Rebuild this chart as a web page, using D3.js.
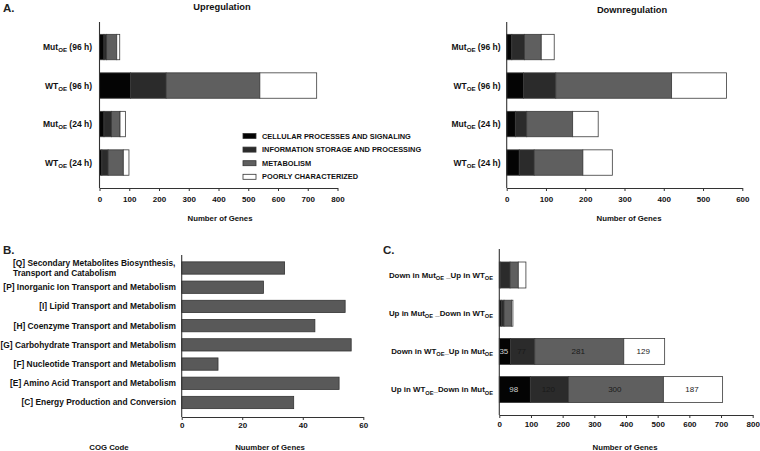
<!DOCTYPE html>
<html>
<head>
<meta charset="utf-8">
<script src="https://cdn.jsdelivr.net/npm/d3@7/dist/d3.min.js"></script>
<style>
  html, body { margin: 0; padding: 0; background: #fff; }
  svg { display: block; font-family: "Liberation Sans", Arial, sans-serif; }
</style>
</head>
<body>
<svg id="chart" width="760" height="451"></svg>
<script>
// ---------- DATA ----------
const cogClasses = ["CELLULAR PROCESSES AND SIGNALING", "INFORMATION STORAGE AND PROCESSING", "METABOLISM", "POORLY CHARACTERIZED"];
const sampleRows = [["Mut", " (96 h)"], ["WT", " (96 h)"], ["Mut", " (24 h)"], ["WT", " (24 h)"]];
const upCellular = [15, 104, 15, 8];
const upInformation = [9, 120, 25, 21];
const upMetabolism = [34, 315, 29, 51];
const upPoorly = [10, 191, 18, 19];
const downCellular = [13, 43, 22, 32];
const downInformation = [32, 82, 29, 38];
const downMetabolism = [43, 295, 117, 124];
const downPoorly = [33, 140, 65, 75];
const upTicks = [0, 100, 200, 300, 400, 500, 600, 700, 800];
const downTicks = [0, 100, 200, 300, 400, 500, 600];

const metabCategories = [
  "[Q] Secondary Metabolites Biosynthesis,|Transport and Catabolism",
  "[P] Inorganic Ion Transport and Metabolism",
  "[I] Lipid Transport and Metabolism",
  "[H] Coenzyme Transport and Metabolism",
  "[G] Carbohydrate Transport and Metabolism",
  "[F] Nucleotide Transport and Metabolism",
  "[E] Amino Acid Transport and Metabolism",
  "[C] Energy Production and Conversion"
];
const metabGenes = [34, 27, 54, 44, 56, 12, 52, 37];
const metabTicks = [0, 20, 40, 60];

// comparison rows: each label as [text, sub, text, sub]
const compareRows = [
  ["Down in Mut", "OE", " _Up in WT", "OE"],
  ["Up in Mut", "OE", " _Down in WT", "OE"],
  ["Down in WT", "OE", "_Up in Mut", "OE"],
  ["Up in WT", "OE", "_Down in Mut", "OE"]
];
const cmpCellular = [3, 6, 35, 98];
const cmpInformation = [31, 9, 77, 120];
const cmpMetabolism = [26, 24, 281, 300];
const cmpPoorly = [24, 4, 129, 187];
const cmpLabeled = [false, false, true, true];
const cmpTicks = [0, 100, 200, 300, 400, 500, 600, 700, 800];

// ---------- STYLE ----------
const segColors = ["#040404", "#2b2b2b", "#5f5f5f", "#ffffff"];
const axisColor = "#333";
const svg = d3.select("#chart");

function addSubLabel(sel, parts, fs) {
  parts.forEach((p, i) => {
    const t = sel.append("tspan").text(p);
    if (i % 2 === 1) {
      t.attr("font-size", fs * 0.72).attr("dy", fs * 0.28);
    } else if (i > 0) {
      t.attr("dy", -fs * 0.28);
    }
  });
}

function styleAxis(g, fs) {
  g.select(".domain").attr("stroke", axisColor).attr("stroke-width", 1.1);
  g.selectAll(".tick line").attr("stroke", axisColor).attr("stroke-width", 1);
  g.selectAll(".tick text").attr("fill", "#111").attr("font-size", fs).attr("font-weight", "bold").attr("font-family", "Liberation Sans, Arial, sans-serif");
}

function stackedPanel(opt) {
  const x = d3.scaleLinear().domain(opt.domain).range(opt.xr);
  const y = d3.scaleBand().domain(d3.range(opt.rows.length)).range(opt.yr).paddingInner(opt.pad).paddingOuter(opt.pad / 2);
  const series = opt.series;
  const rowsData = opt.rows.map((r, i) => {
    let acc = 0;
    return series.map((s, k) => { const v = s[i]; const seg = {row: i, k, x0: acc, x1: acc + v, v}; acc += v; return seg; });
  });
  const g = svg.append("g");
  rowsData.forEach((segs, i) => {
    g.selectAll(null).data(segs).enter().append("rect")
      .attr("x", d => x(d.x0))
      .attr("y", y(i))
      .attr("width", d => Math.max(0, x(d.x1) - x(d.x0)))
      .attr("height", y.bandwidth())
      .attr("fill", d => segColors[d.k])
      .attr("stroke", "#3a3a3a")
      .attr("stroke-width", 0.8);
    if (opt.labeled && opt.labeled[i]) {
      g.selectAll(null).data(segs).enter().append("text")
        .attr("x", d => (x(d.x0) + x(d.x1)) / 2 - 1)
        .attr("y", y(i) + y.bandwidth() / 2)
        .attr("dy", "0.35em")
        .attr("text-anchor", "middle")
        .attr("font-size", 8)
        .attr("fill", d => d.k === 0 ? "#d0d0d0" : "#1a1a1a")
        .text(d => d.v);
    }
  });
  // row labels
  opt.rows.forEach((r, i) => {
    const t = g.append("text")
      .attr("x", opt.labelX)
      .attr("y", y(i) + y.bandwidth() / 2)
      .attr("dy", "0.35em")
      .attr("text-anchor", "end")
      .attr("font-size", opt.labelFs)
      .attr("font-weight", "bold")
      .attr("fill", "#111");
    addSubLabel(t, r, opt.labelFs);
  });
  // axes
  const ax = g.append("g").attr("transform", `translate(0,${opt.axisY})`)
    .call(d3.axisBottom(x).tickValues(opt.ticks).tickSize(3).tickSizeOuter(0).tickPadding(opt.tickPad));
  styleAxis(ax, 8);
  g.append("line").attr("x1", x(0)).attr("x2", x(0)).attr("y1", opt.axisTop).attr("y2", opt.axisY)
    .attr("stroke", axisColor).attr("stroke-width", 1.1);
  return {x, y, g};
}

// ---------- PANEL A: Upregulation ----------
const upRows = sampleRows.map(r => [r[0], "OE", r[1]]);
stackedPanel({
  domain: [0, 800], xr: [99.5, 337.5], yr: [27.8, 181.8], pad: 0.34,
  rows: upRows, series: [upCellular, upInformation, upMetabolism, upPoorly],
  labelX: 92, labelFs: 8.5, axisY: 188, axisTop: 22, ticks: upTicks, tickPad: 5
});
// ---------- PANEL A: Downregulation ----------
stackedPanel({
  domain: [0, 600], xr: [506.7, 742.3], yr: [27.8, 181.8], pad: 0.34,
  rows: upRows, series: [downCellular, downInformation, downMetabolism, downPoorly],
  labelX: 500.5, labelFs: 8.5, axisY: 188, axisTop: 22, ticks: downTicks, tickPad: 5
});

// titles
svg.append("text").attr("x", 3).attr("y", 12).attr("font-size", 11.5).attr("font-weight", "bold").attr("fill", "#222").text("A.");
svg.append("text").attr("x", 222).attr("y", 9.5).attr("text-anchor", "middle").attr("font-size", 9.3).attr("font-weight", "bold").attr("fill", "#111").text("Upregulation");
svg.append("text").attr("x", 632).attr("y", 13).attr("text-anchor", "middle").attr("font-size", 9.3).attr("font-weight", "bold").attr("fill", "#111").text("Downregulation");
svg.append("text").attr("x", 220).attr("y", 221).attr("text-anchor", "middle").attr("font-size", 7.8).attr("font-weight", "bold").attr("fill", "#111").text("Number of Genes");
svg.append("text").attr("x", 629).attr("y", 221).attr("text-anchor", "middle").attr("font-size", 7.8).attr("font-weight", "bold").attr("fill", "#111").text("Number of Genes");

// legend
const legend = svg.append("g");
cogClasses.forEach((c, i) => {
  const yy = 136 + i * 13.6;
  legend.append("rect").attr("x", 243).attr("y", yy - 2.5).attr("width", 13).attr("height", 5)
    .attr("fill", segColors[i]).attr("stroke", "#333").attr("stroke-width", 0.8);
  legend.append("text").attr("x", 262).attr("y", yy).attr("dy", "0.35em")
    .attr("font-size", 7.4).attr("font-weight", "bold").attr("fill", "#111").text(c);
});

// ---------- PANEL B ----------
(function () {
  const x = d3.scaleLinear().domain([0, 60]).range([181.7, 363.3]);
  const y = d3.scaleBand().domain(metabCategories).range([258.4, 412.1]).paddingInner(0.36).paddingOuter(0.18);
  const g = svg.append("g");
  g.selectAll(null).data(metabCategories).enter().append("rect")
    .attr("x", x(0)).attr("y", d => y(d))
    .attr("width", (d, i) => x(metabGenes[i]) - x(0))
    .attr("height", y.bandwidth())
    .attr("fill", "#595959").attr("stroke", "#333").attr("stroke-width", 0.8);
  metabCategories.forEach(c => {
    const lines = c.split("|");
    const cy = y(c) + y.bandwidth() / 2;
    if (lines.length === 1) {
      g.append("text").attr("x", 176).attr("y", cy).attr("dy", "0.35em").attr("text-anchor", "end")
        .attr("font-size", 8.4).attr("font-weight", "bold").attr("fill", "#111").text(c);
    } else {
      lines.forEach((l, j) => {
        g.append("text").attr("x", 13).attr("y", cy - 4.5 + j * 9.5).attr("dy", "0.35em")
          .attr("font-size", 8.4).attr("font-weight", "bold").attr("fill", "#111").text(l);
      });
    }
  });
  const ax = g.append("g").attr("transform", "translate(0,417)")
    .call(d3.axisBottom(x).tickValues(metabTicks).tickSize(3).tickSizeOuter(0).tickPadding(2));
  styleAxis(ax, 8);
  g.append("line").attr("x1", x(0)).attr("x2", x(0)).attr("y1", 255).attr("y2", 417).attr("stroke", axisColor).attr("stroke-width", 1.1);
  svg.append("text").attr("x", 3).attr("y", 253.5).attr("font-size", 11.5).attr("font-weight", "bold").attr("fill", "#222").text("B.");
  svg.append("text").attr("x", 109).attr("y", 450).attr("text-anchor", "middle").attr("font-size", 7.8).attr("font-weight", "bold").attr("fill", "#111").text("COG Code");
  svg.append("text").attr("x", 270).attr("y", 450).attr("text-anchor", "middle").attr("font-size", 7.8).attr("font-weight", "bold").attr("fill", "#111").text("Nuumber of Genes");
})();

// ---------- PANEL C ----------
stackedPanel({
  domain: [0, 800], xr: [499.3, 752.7], yr: [255.9, 408.7], pad: 0.32,
  rows: compareRows, series: [cmpCellular, cmpInformation, cmpMetabolism, cmpPoorly],
  labeled: cmpLabeled,
  labelX: 493, labelFs: 7.9, axisY: 415, axisTop: 249, ticks: cmpTicks, tickPad: 3.5
});
svg.append("text").attr("x", 383).attr("y", 253.5).attr("font-size", 11.5).attr("font-weight", "bold").attr("fill", "#222").text("C.");
svg.append("text").attr("x", 625).attr("y", 450).attr("text-anchor", "middle").attr("font-size", 7.8).attr("font-weight", "bold").attr("fill", "#111").text("Number of Genes");
</script>
</body>
</html>
